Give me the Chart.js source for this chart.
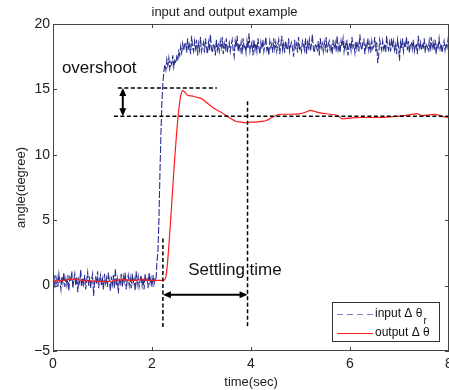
<!DOCTYPE html>
<html lang="en">
<head>
    <meta charset="UTF-8">
    <title>input and output example</title>
    <script src="https://cdn.jsdelivr.net/npm/chart.js"></script>
    <style>
        body { margin: 0; background: #fff; }
        canvas { display: block; }
    </style>
</head>
<body>
    <canvas id="stepChart" width="449" height="390"></canvas>

    <script>
        // input signal, sampled every 0.02 s from t = 0
        const sampleStep = 0.02;
        const inputPre = [
            0.5,-0.2,0.8,0.1,0.6,-0.1,0.9,0.3,-0.3,0.7,
            0.2,1.0,-0.1,0.5,0.0,0.8,-0.4,0.6,0.3,1.1,
            -0.2,0.4,0.9,0.0,0.7,-0.5,0.5,0.2,1.2,-0.1,
            0.6,0.1,0.8,-0.3,0.4,1.0,0.0,0.7,-0.2,0.5,
            0.9,-0.8,0.3,0.6,0.1,1.1,-0.2,0.4,0.8,0.0,
            0.5,-0.3,0.9,0.2,0.6,-0.1,1.0,0.3,-0.4,0.7,
            0.1,0.8,-0.2,1.3,0.0,0.5,-0.6,0.6,0.2,0.9,
            -0.1,0.7,0.3,1.0,-0.3,0.4,0.8,0.0,0.6,-0.2,
            0.9,0.2,0.5,-0.4,1.1,0.1,0.7,-0.1,0.4,0.8,
            0.0,0.6,-0.3,0.9,0.3,0.5,-0.2,1.0,0.2,0.6,
            -0.1,0.8,0.1,0.5,0.4
        ];
        const inputRise = [1.8,2.6,5.0,8.5,11.5,14.0,15.5,16.4,16.9];
        const inputPlateau = [16.5,17.3,16.8,17.4,16.6,17.1,16.9,17.6,16.7,17.2,17.0];
        const inputClimb = [17.5,17.2,17.9,17.6,18.3,17.8,18.5,18.0,18.4];
        const inputSteady = [
            18.6,17.8,18.9,18.0,18.4,17.7,19.1,18.2,17.9,18.7,
            18.1,18.8,17.6,18.5,18.0,19.0,17.9,18.3,18.6,17.8,
            18.9,18.2,17.7,18.6,18.0,19.2,18.1,17.8,18.5,18.3,
            17.6,18.8,18.0,18.4,17.9,18.7,18.2,19.0,17.7,18.5,
            18.1,18.9,17.8,18.3,18.6,17.9,18.4,18.8,18.0,17.5,
            18.7,18.2,19.1,17.9,18.5,18.0,18.6,17.7,18.9,18.2,
            18.4,17.8,18.7,18.1,19.3,17.9,18.3,18.6,17.6,18.8,
            18.0,18.5,17.9,18.9,18.2,17.7,18.6,18.1,18.8,17.9,
            18.4,19.0,18.0,18.3,17.6,18.7,18.2,18.5,17.8,18.9,
            18.1,18.6,17.9,18.4,18.8,17.7,18.3,19.1,18.0,18.5,
            17.8,18.7,18.2,18.0,18.9,17.9,18.4,18.6,18.1,17.5,
            18.8,18.2,18.5,17.8,19.0,18.1,18.3,17.9,18.7,18.4,
            18.0,18.9,17.7,18.6,18.2,18.8,17.9,18.4,19.2,18.1,
            17.8,18.5,18.3,18.0,18.7,17.6,18.9,18.2,18.5,17.9,
            18.6,18.1,19.0,17.8,18.4,18.7,18.0,18.3,17.7,18.8,
            18.2,18.6,17.9,19.1,18.0,18.4,17.8,18.7,18.3,18.9,
            17.9,18.5,18.1,18.8,17.6,18.3,18.6,18.0,19.0,18.2,
            18.4,17.8,18.7,18.1,18.5,17.9,19.2,18.3,18.0,18.6,
            18.8,17.7,18.4,18.2,18.9,18.0,18.5,17.8,18.7,18.1,
            18.3,19.0,17.9,18.6,17.0,17.6,18.8,18.4,18.0,18.7,
            18.1,18.5,17.8,19.1,18.3,18.0,18.6,17.9,18.9,18.2,
            18.7,18.0,18.4,17.7,18.8,18.3,17.2,18.6,18.1,18.9,
            17.9,18.5,18.2,19.0,18.0,18.7,17.8,18.4,18.6,18.1,
            18.8,17.9,18.3,18.5,17.7,19.1,18.2,18.6,18.0,18.4,
            18.1,18.9,17.8,18.5,18.3,18.0,18.7,17.9,19.0,18.2,
            18.6,18.0,18.8,17.7,18.4,18.2,18.9,18.1,18.5,17.8,
            18.3,18.7,18.0,18.5,18.2,18.8,18.1
        ];
        const inputAngle = [].concat(inputPre, inputRise, inputPlateau, inputClimb, inputSteady);

        // output response
        const outputTime = [0,0.2,0.4,0.6,0.8,1.0,1.2,1.4,1.6,1.8,2.0,2.2,2.26,
            2.30,2.34,2.38,2.42,2.46,2.50,2.54,2.58,2.62,2.66,2.72,2.80,2.90,3.0,3.1,3.2,3.3,3.4,3.5,
            3.6,3.7,3.8,3.9,4.0,4.1,4.2,4.3,4.4,4.5,4.6,4.8,5.0,5.1,5.2,5.3,5.4,5.6,5.75,5.85,
            6.0,6.2,6.5,6.8,7.0,7.2,7.35,7.45,7.6,7.72,7.85,8.0];
        const outputAngle = [0.35,0.4,0.5,0.4,0.35,0.3,0.35,0.45,0.4,0.45,0.4,0.4,0.45,
            1.2,3.0,5.2,7.5,9.8,11.8,13.4,14.5,14.9,14.8,14.55,14.5,14.4,14.3,14.0,13.7,13.45,13.25,13.0,
            12.75,12.55,12.5,12.45,12.5,12.5,12.55,12.6,12.8,13.0,13.1,13.1,13.15,13.25,13.4,13.3,13.2,13.1,13.0,12.75,
            12.8,12.85,12.85,12.9,12.95,13.05,13.15,13.0,13.05,13.1,12.95,12.85];

        const xTicks = [0, 2, 4, 6, 8];
        const yTicks = [-5, 0, 5, 10, 15, 20];

        // annotation marks in data units
        const overshootTop = 15.1;
        const settledLevel = 12.95;
        const settleStart = 2.22;
        const settleEnd = 3.93;

        const blue = '#2a2f8f';
        const red = '#ff1a1a';
        const fontFamily = '"Liberation Sans", Arial, sans-serif';

        function arrowHead(ctx, x, y, dx, dy) {
            const len = 8, half = 3.5;
            ctx.beginPath();
            ctx.moveTo(x, y);
            ctx.lineTo(x - dx * len - dy * half, y - dy * len + dx * half);
            ctx.lineTo(x - dx * len + dy * half, y - dy * len - dx * half);
            ctx.closePath();
            ctx.fill();
        }

        const decorPlugin = {
            id: 'decor',
            afterDatasetsDraw(chart) {
                const ctx = chart.ctx;
                const xs = chart.scales.x, ys = chart.scales.y;
                const a = chart.chartArea;
                const px = v => xs.getPixelForValue(v);
                const py = v => ys.getPixelForValue(v);

                ctx.save();
                // dashed guide lines
                ctx.strokeStyle = '#000';
                ctx.lineWidth = 1.5;
                ctx.setLineDash([4, 2.5]);
                ctx.beginPath();
                ctx.moveTo(px(1.31), py(overshootTop));
                ctx.lineTo(px(3.31), py(overshootTop));
                ctx.moveTo(px(1.23), py(settledLevel));
                ctx.lineTo(px(8), py(settledLevel));
                ctx.moveTo(px(settleStart), py(3.6));
                ctx.lineTo(px(settleStart), py(-3.3));
                ctx.moveTo(px(settleEnd), py(14.1));
                ctx.lineTo(px(settleEnd), py(-3.3));
                ctx.stroke();

                // arrows
                ctx.setLineDash([]);
                ctx.fillStyle = '#000';
                ctx.lineWidth = 2;
                const ax = px(1.41);
                ctx.beginPath();
                ctx.moveTo(ax, py(overshootTop) + 6);
                ctx.lineTo(ax, py(settledLevel) - 6);
                ctx.stroke();
                arrowHead(ctx, ax, py(overshootTop), 0, -1);
                arrowHead(ctx, ax, py(settledLevel), 0, 1);

                const ay = py(-0.7);
                ctx.beginPath();
                ctx.moveTo(px(settleStart) + 6, ay);
                ctx.lineTo(px(settleEnd) - 6, ay);
                ctx.stroke();
                arrowHead(ctx, px(settleStart), ay, -1, 0);
                arrowHead(ctx, px(settleEnd), ay, 1, 0);

                // labels
                ctx.font = '17px ' + fontFamily;
                ctx.textBaseline = 'middle';
                ctx.textAlign = 'left';
                ctx.fillStyle = '#111';
                ctx.fillText('overshoot', px(0.18), py(16.65));
                ctx.fillText('Settling time', px(2.73), py(1.16));

                // axes box and inward ticks
                ctx.strokeStyle = '#444';
                ctx.lineWidth = 1;
                ctx.strokeRect(a.left + 0.5, a.top + 0.5, a.right - a.left - 1, a.bottom - a.top - 1);
                ctx.beginPath();
                xTicks.forEach(t => {
                    const x = Math.round(px(t)) + 0.5;
                    ctx.moveTo(x, a.bottom); ctx.lineTo(x, a.bottom - 4);
                    ctx.moveTo(x, a.top); ctx.lineTo(x, a.top + 4);
                });
                yTicks.forEach(t => {
                    const y = Math.round(py(t)) + 0.5;
                    ctx.moveTo(a.left, y); ctx.lineTo(a.left + 4, y);
                    ctx.moveTo(a.right, y); ctx.lineTo(a.right - 4, y);
                });
                ctx.stroke();

                // legend
                const lx = a.right - 117, ly = a.bottom - 49;
                ctx.fillStyle = '#fff';
                ctx.fillRect(lx, ly, 108, 40);
                ctx.strokeStyle = '#333';
                ctx.strokeRect(lx + 0.5, ly + 0.5, 107, 39);
                ctx.lineWidth = 1.2;
                ctx.strokeStyle = '#7b7fc4';
                ctx.setLineDash([6, 4]);
                ctx.beginPath();
                ctx.moveTo(lx + 5, ly + 12.5); ctx.lineTo(lx + 41, ly + 12.5);
                ctx.stroke();
                ctx.setLineDash([]);
                ctx.strokeStyle = red;
                ctx.beginPath();
                ctx.moveTo(lx + 5, ly + 31.5); ctx.lineTo(lx + 41, ly + 31.5);
                ctx.stroke();
                ctx.fillStyle = '#111';
                ctx.font = '12px ' + fontFamily;
                const inLabel = 'input Δ θ';
                ctx.fillText(inLabel, lx + 43, ly + 12);
                ctx.fillText('output Δ θ', lx + 43, ly + 31);
                const subX = lx + 44 + ctx.measureText(inLabel).width;
                ctx.font = '10px ' + fontFamily;
                ctx.fillText('r', subX, ly + 19);
                ctx.restore();
            }
        };

        const ctx = document.getElementById('stepChart').getContext('2d');
        const stepChart = new Chart(ctx, {
            type: 'line',
            data: {
                datasets: [
                    {
                        label: 'output Δ θ',
                        data: outputTime.map((t, i) => ({ x: t, y: outputAngle[i] })),
                        borderColor: red,
                        borderWidth: 1.2,
                        cubicInterpolationMode: 'monotone',
                        pointRadius: 0,
                        fill: false,
                        order: 0
                    },
                    {
                        label: 'input Δ θr',
                        data: inputAngle.map((v, i) => ({ x: i * sampleStep, y: v })),
                        borderColor: blue,
                        borderWidth: 1.1,
                        borderDash: [7, 2],
                        tension: 0,
                        pointRadius: 0,
                        fill: false,
                        order: 1
                    }
                ]
            },
            options: {
                responsive: false,
                animation: false,
                layout: { padding: { left: 0, right: 0, top: 0, bottom: 0 } },
                plugins: {
                    legend: { display: false },
                    tooltip: { enabled: false },
                    title: {
                        display: true,
                        text: 'input and output example',
                        color: '#222',
                        font: { family: fontFamily, size: 13, weight: 'normal' },
                        padding: { top: 5, bottom: 3.4 }
                    }
                },
                scales: {
                    x: {
                        type: 'linear',
                        min: 0,
                        max: 8,
                        afterBuildTicks: s => { s.ticks = xTicks.map(v => ({ value: v })); },
                        ticks: { color: '#222', padding: 5, maxRotation: 0, font: { family: fontFamily, size: 14 } },
                        grid: { display: false, drawTicks: false, tickLength: 0 },
                        border: { display: false },
                        title: {
                            display: true,
                            text: 'time(sec)',
                            color: '#222',
                            font: { family: fontFamily, size: 13 },
                            padding: 0
                        },
                        afterFit: s => { s.height = 39; s.paddingLeft = 0; s.paddingRight = 0; }
                    },
                    y: {
                        min: -5,
                        max: 20,
                        afterBuildTicks: s => { s.ticks = yTicks.map(v => ({ value: v })); },
                        ticks: {
                            color: '#222',
                            padding: 3,
                            font: { family: fontFamily, size: 14 },
                            callback: v => String(v).replace('-', '−')
                        },
                        grid: { display: false, drawTicks: false, tickLength: 0 },
                        border: { display: false },
                        title: {
                            display: true,
                            text: 'angle(degree)',
                            color: '#222',
                            font: { family: fontFamily, size: 13 },
                            padding: { top: 14, bottom: 0 }
                        },
                        afterFit: s => { s.width = 53; s.paddingTop = 0; s.paddingBottom = 0; }
                    }
                }
            },
            plugins: [decorPlugin]
        });
    </script>
</body>
</html>
